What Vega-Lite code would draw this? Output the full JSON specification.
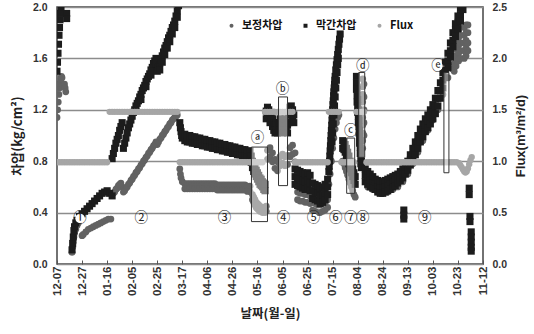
{
"$schema": "https://vega.github.io/schema/vega-lite/v6.json",
"width": 426, "height": 257,
"autosize": {"type": "none"},
"padding": {"left": 57, "top": 7, "right": 51, "bottom": 70},
"background": "white",
"config": {"view": {"stroke": "#444", "strokeWidth": 1.5}, "font": "Liberation Sans"},
"datasets": {
"vlines": [{"day":41},{"day":97},{"day":172},{"day":190.4},{"day":218.4},{"day":228.8},{"day":239.2},{"day":248}],
"periodEnds": [{"day":40.2},{"day":96.2},{"day":171.2},{"day":189.6},{"day":217.6},{"day":228},{"day":238.4},{"day":247.2},{"day":333}],
"periodStarts": [{"day":0.8},{"day":41.8},{"day":97.8},{"day":172.8},{"day":191.2},{"day":219.2},{"day":229.6},{"day":240},{"day":248.8}],
"boxes": [
{"day":155.2,"day2":168,"top":0.91,"bottom":0.33},
{"day":176.8,"day2":184,"top":1.3,"bottom":0.61},
{"day":231.2,"day2":237.6,"top":0.98,"bottom":0.55},
{"day":240.8,"day2":245.6,"top":1.49,"bottom":0.83},
{"day":308.8,"day2":312.8,"top":1.49,"bottom":0.71}],
"labels": [
{"day":18.4,"value":0.355,"label":"①"},{"day":67.2,"value":0.355,"label":"②"},{"day":133.6,"value":0.355,"label":"③"},
{"day":180.8,"value":0.355,"label":"④"},{"day":204.8,"value":0.355,"label":"⑤"},{"day":222.4,"value":0.355,"label":"⑥"},
{"day":234.4,"value":0.355,"label":"⑦"},{"day":244,"value":0.355,"label":"⑧"},{"day":293.6,"value":0.355,"label":"⑨"},
{"day":160,"value":0.98,"label":"ⓐ"},{"day":180,"value":1.36,"label":"ⓑ"},{"day":234.4,"value":1.035,"label":"ⓒ"},
{"day":244,"value":1.54,"label":"ⓓ"},{"day":304,"value":1.54,"label":"ⓔ"}],
"pts": [
{"series":"막간차압","day":0,"value":1.5},{"series":"막간차압","day":0.4,"value":1.57},{"series":"막간차압","day":0.8,"value":1.64},{"series":"막간차압","day":1.2,"value":1.71},{"series":"막간차압","day":1.6,"value":1.78},{"series":"막간차압","day":2,"value":1.84},{"series":"막간차압","day":2.4,"value":1.9},{"series":"막간차압","day":2.8,"value":1.95},{"series":"막간차압","day":3.2,"value":2.0},{"series":"막간차압","day":7.7,"value":1.95},{"series":"막간차압","day":7.7,"value":1.91},
{"series":"막간차압","day":12,"value":0.11},{"series":"막간차압","day":12.5,"value":0.16},{"series":"막간차압","day":13,"value":0.21},{"series":"막간차압","day":13.5,"value":0.26},{"series":"막간차압","day":14,"value":0.29},{"series":"막간차압","day":15,"value":0.32},{"series":"막간차압","day":16,"value":0.34},{"series":"막간차압","day":18,"value":0.37},{"series":"막간차압","day":20,"value":0.39},{"series":"막간차압","day":22,"value":0.41},{"series":"막간차압","day":24,"value":0.43},{"series":"막간차압","day":26,"value":0.45},{"series":"막간차압","day":28,"value":0.47},{"series":"막간차압","day":30,"value":0.49},{"series":"막간차압","day":32,"value":0.51},{"series":"막간차압","day":34,"value":0.53},{"series":"막간차압","day":36,"value":0.55},{"series":"막간차압","day":38,"value":0.56},{"series":"막간차압","day":40,"value":0.57},{"series":"막간차압","day":42,"value":0.55},{"series":"막간차압","day":44,"value":0.53},
{"series":"막간차압","day":44,"value":0.82},{"series":"막간차압","day":45,"value":0.86},{"series":"막간차압","day":46,"value":0.9},{"series":"막간차압","day":47,"value":0.94},{"series":"막간차압","day":48,"value":0.97},{"series":"막간차압","day":49,"value":1.0},{"series":"막간차압","day":50,"value":1.04},{"series":"막간차압","day":51,"value":1.07},{"series":"막간차압","day":52,"value":1.1},
{"series":"막간차압","day":53,"value":0.9},{"series":"막간차압","day":54,"value":0.94},{"series":"막간차압","day":55,"value":0.98},{"series":"막간차압","day":56,"value":1.02},{"series":"막간차압","day":57,"value":1.06},{"series":"막간차압","day":58,"value":1.09},{"series":"막간차압","day":59,"value":1.12},{"series":"막간차압","day":60,"value":1.15},{"series":"막간차압","day":61,"value":1.18},{"series":"막간차압","day":62,"value":1.2},{"series":"막간차압","day":63,"value":1.23},{"series":"막간차압","day":64,"value":1.25},{"series":"막간차압","day":65,"value":1.27},{"series":"막간차압","day":66,"value":1.3},{"series":"막간차압","day":67,"value":1.32},{"series":"막간차압","day":68,"value":1.35},{"series":"막간차압","day":69,"value":1.37},{"series":"막간차압","day":70,"value":1.39},{"series":"막간차압","day":71,"value":1.42},{"series":"막간차압","day":72,"value":1.44},{"series":"막간차압","day":73,"value":1.46},{"series":"막간차압","day":74,"value":1.48},{"series":"막간차압","day":75,"value":1.51},{"series":"막간차압","day":76,"value":1.53},{"series":"막간차압","day":77,"value":1.56},{"series":"막간차압","day":78,"value":1.58},{"series":"막간차압","day":79,"value":1.6},
{"series":"막간차압","day":63,"value":1.19},{"series":"막간차압","day":67,"value":1.28},{"series":"막간차압","day":71,"value":1.38},{"series":"막간차압","day":75,"value":1.47},{"series":"막간차압","day":79,"value":1.56},
{"series":"막간차압","day":80,"value":1.5},{"series":"막간차압","day":81,"value":1.53},{"series":"막간차압","day":82,"value":1.56},{"series":"막간차압","day":83,"value":1.59},{"series":"막간차압","day":84,"value":1.62},{"series":"막간차압","day":85,"value":1.65},{"series":"막간차압","day":86,"value":1.68},{"series":"막간차압","day":87,"value":1.7},{"series":"막간차압","day":88,"value":1.73},{"series":"막간차압","day":89,"value":1.76},{"series":"막간차압","day":90,"value":1.78},{"series":"막간차압","day":91,"value":1.81},{"series":"막간차압","day":92,"value":1.84},{"series":"막간차압","day":93,"value":1.86},{"series":"막간차압","day":94,"value":1.89},{"series":"막간차압","day":95,"value":1.93},{"series":"막간차압","day":96,"value":1.97},{"series":"막간차압","day":97,"value":2.01},
{"series":"막간차압","day":82,"value":1.51},{"series":"막간차압","day":84,"value":1.57},{"series":"막간차압","day":86,"value":1.63},{"series":"막간차압","day":88,"value":1.68},{"series":"막간차압","day":90,"value":1.73},{"series":"막간차압","day":92,"value":1.79},{"series":"막간차압","day":94,"value":1.84},{"series":"막간차압","day":96,"value":1.92},
{"series":"막간차압","day":98,"value":1.1},{"series":"막간차압","day":98.5,"value":1.06},{"series":"막간차압","day":99,"value":1.03},{"series":"막간차압","day":99.5,"value":1.0},{"series":"막간차압","day":100,"value":0.98},
{"series":"막간차압","day":102,"value":1.01},{"series":"막간차압","day":102,"value":0.96},{"series":"막간차압","day":104,"value":1.0},{"series":"막간차압","day":104,"value":0.95},{"series":"막간차압","day":106,"value":1.0},{"series":"막간차압","day":106,"value":0.95},{"series":"막간차압","day":108,"value":0.99},{"series":"막간차압","day":108,"value":0.94},{"series":"막간차압","day":110,"value":0.99},{"series":"막간차압","day":110,"value":0.94},{"series":"막간차압","day":112,"value":0.98},{"series":"막간차압","day":112,"value":0.93},{"series":"막간차압","day":114,"value":0.98},{"series":"막간차압","day":114,"value":0.93},{"series":"막간차압","day":116,"value":0.97},{"series":"막간차압","day":116,"value":0.92},{"series":"막간차압","day":118,"value":0.97},{"series":"막간차압","day":118,"value":0.92},{"series":"막간차압","day":120,"value":0.96},{"series":"막간차압","day":120,"value":0.91},{"series":"막간차압","day":122,"value":0.96},{"series":"막간차압","day":122,"value":0.91},{"series":"막간차압","day":124,"value":0.95},{"series":"막간차압","day":124,"value":0.9},{"series":"막간차압","day":126,"value":0.95},{"series":"막간차압","day":126,"value":0.9},{"series":"막간차압","day":128,"value":0.94},{"series":"막간차압","day":128,"value":0.89},{"series":"막간차압","day":130,"value":0.94},{"series":"막간차압","day":130,"value":0.89},{"series":"막간차압","day":132,"value":0.93},{"series":"막간차압","day":132,"value":0.88},{"series":"막간차압","day":134,"value":0.93},{"series":"막간차압","day":134,"value":0.88},{"series":"막간차압","day":136,"value":0.92},{"series":"막간차압","day":136,"value":0.87},{"series":"막간차압","day":138,"value":0.92},{"series":"막간차압","day":138,"value":0.87},{"series":"막간차압","day":140,"value":0.91},{"series":"막간차압","day":140,"value":0.86},{"series":"막간차압","day":142,"value":0.91},{"series":"막간차압","day":142,"value":0.86},{"series":"막간차압","day":144,"value":0.9},{"series":"막간차압","day":144,"value":0.85},{"series":"막간차압","day":146,"value":0.9},{"series":"막간차압","day":146,"value":0.85},{"series":"막간차압","day":148,"value":0.89},{"series":"막간차압","day":148,"value":0.84},{"series":"막간차압","day":150,"value":0.89},{"series":"막간차압","day":150,"value":0.84},{"series":"막간차압","day":152,"value":0.88},{"series":"막간차압","day":152,"value":0.83},{"series":"막간차압","day":154,"value":0.88},{"series":"막간차압","day":154,"value":0.83},
{"series":"막간차압","day":155,"value":0.84},{"series":"막간차압","day":155,"value":0.79},{"series":"막간차압","day":156,"value":0.8},{"series":"막간차압","day":156,"value":0.75},{"series":"막간차압","day":157,"value":0.77},{"series":"막간차압","day":157,"value":0.72},{"series":"막간차압","day":158,"value":0.75},{"series":"막간차압","day":158,"value":0.7},{"series":"막간차압","day":159,"value":0.73},{"series":"막간차압","day":159,"value":0.68},{"series":"막간차압","day":160,"value":0.71},{"series":"막간차압","day":160,"value":0.66},{"series":"막간차압","day":161,"value":0.69},{"series":"막간차압","day":161,"value":0.64},{"series":"막간차압","day":162,"value":0.67},{"series":"막간차압","day":162,"value":0.62},{"series":"막간차압","day":163,"value":0.66},{"series":"막간차압","day":163,"value":0.61},{"series":"막간차압","day":164,"value":0.64},{"series":"막간차압","day":164,"value":0.6},{"series":"막간차압","day":165,"value":0.63},{"series":"막간차압","day":165,"value":0.58},{"series":"막간차압","day":166,"value":0.62},{"series":"막간차압","day":166,"value":0.57},
{"series":"막간차압","day":167,"value":1.19},{"series":"막간차압","day":167,"value":1.13},{"series":"막간차압","day":168,"value":1.22},{"series":"막간차압","day":168,"value":1.16},{"series":"막간차압","day":169,"value":1.2},{"series":"막간차압","day":169,"value":1.14},{"series":"막간차압","day":170,"value":1.16},{"series":"막간차압","day":170,"value":1.1},{"series":"막간차압","day":171,"value":1.18},{"series":"막간차압","day":171,"value":1.12},{"series":"막간차압","day":172,"value":1.13},{"series":"막간차압","day":172,"value":1.07},{"series":"막간차압","day":173,"value":1.1},{"series":"막간차압","day":173,"value":1.04},{"series":"막간차압","day":174,"value":1.08},{"series":"막간차압","day":174,"value":1.02},{"series":"막간차압","day":175,"value":1.1},{"series":"막간차압","day":175,"value":1.04},{"series":"막간차압","day":176,"value":1.08},{"series":"막간차압","day":176,"value":1.02},{"series":"막간차압","day":177,"value":1.1},{"series":"막간차압","day":177,"value":1.04},{"series":"막간차압","day":178,"value":1.13},{"series":"막간차압","day":178,"value":1.07},{"series":"막간차압","day":179,"value":1.1},{"series":"막간차압","day":179,"value":1.04},{"series":"막간차압","day":180,"value":1.08},{"series":"막간차압","day":180,"value":1.02},{"series":"막간차압","day":181,"value":1.1},{"series":"막간차압","day":181,"value":1.04},{"series":"막간차압","day":182,"value":1.13},{"series":"막간차압","day":182,"value":1.07},{"series":"막간차압","day":183,"value":1.1},{"series":"막간차압","day":183,"value":1.04},{"series":"막간차압","day":184,"value":1.08},{"series":"막간차압","day":184,"value":1.02},{"series":"막간차압","day":185,"value":1.16},{"series":"막간차압","day":185,"value":1.1},{"series":"막간차압","day":186,"value":1.22},{"series":"막간차압","day":186,"value":1.16},{"series":"막간차압","day":187,"value":1.23},{"series":"막간차압","day":187,"value":1.17},{"series":"막간차압","day":188,"value":1.2},{"series":"막간차압","day":188,"value":1.14},{"series":"막간차압","day":189,"value":1.16},{"series":"막간차압","day":189,"value":1.1},
{"series":"막간차압","day":190,"value":0.74},{"series":"막간차압","day":190,"value":0.68},{"series":"막간차압","day":190,"value":0.62},{"series":"막간차압","day":192,"value":0.73},{"series":"막간차압","day":192,"value":0.67},{"series":"막간차압","day":192,"value":0.61},{"series":"막간차압","day":194,"value":0.72},{"series":"막간차압","day":194,"value":0.66},{"series":"막간차압","day":194,"value":0.6},{"series":"막간차압","day":196,"value":0.71},{"series":"막간차압","day":196,"value":0.65},{"series":"막간차압","day":196,"value":0.59},{"series":"막간차압","day":198,"value":0.7},{"series":"막간차압","day":198,"value":0.64},{"series":"막간차압","day":198,"value":0.58},{"series":"막간차압","day":200,"value":0.71},{"series":"막간차압","day":200,"value":0.65},{"series":"막간차압","day":200,"value":0.59},{"series":"막간차압","day":202,"value":0.69},{"series":"막간차압","day":202,"value":0.63},{"series":"막간차압","day":202,"value":0.57},{"series":"막간차압","day":204,"value":0.63},{"series":"막간차압","day":204,"value":0.57},{"series":"막간차압","day":204,"value":0.51},{"series":"막간차압","day":206,"value":0.62},{"series":"막간차압","day":206,"value":0.56},{"series":"막간차압","day":206,"value":0.5},{"series":"막간차압","day":208,"value":0.61},{"series":"막간차압","day":208,"value":0.55},{"series":"막간차압","day":208,"value":0.49},{"series":"막간차압","day":210,"value":0.59},{"series":"막간차압","day":210,"value":0.53},{"series":"막간차압","day":210,"value":0.47},{"series":"막간차압","day":212,"value":0.6},{"series":"막간차압","day":212,"value":0.54},{"series":"막간차압","day":212,"value":0.48},{"series":"막간차압","day":214,"value":0.62},{"series":"막간차압","day":214,"value":0.56},{"series":"막간차압","day":214,"value":0.5},{"series":"막간차압","day":216,"value":0.66},{"series":"막간차압","day":216,"value":0.6},{"series":"막간차압","day":216,"value":0.54},
{"series":"막간차압","day":217,"value":0.72},{"series":"막간차압","day":217.25,"value":0.76},{"series":"막간차압","day":217.5,"value":0.8},{"series":"막간차압","day":217.75,"value":0.84},{"series":"막간차압","day":218,"value":0.88},{"series":"막간차압","day":218.25,"value":0.92},{"series":"막간차압","day":218.5,"value":0.96},{"series":"막간차압","day":218.75,"value":1.0},{"series":"막간차압","day":219,"value":1.04},{"series":"막간차압","day":219.25,"value":1.08},{"series":"막간차압","day":219.5,"value":1.12},{"series":"막간차압","day":219.75,"value":1.16},{"series":"막간차압","day":220,"value":1.2},{"series":"막간차압","day":220.25,"value":1.24},{"series":"막간차압","day":220.5,"value":1.27},{"series":"막간차압","day":220.75,"value":1.31},{"series":"막간차압","day":221,"value":1.34},{"series":"막간차압","day":221.25,"value":1.37},{"series":"막간차압","day":221.5,"value":1.4},{"series":"막간차압","day":221.75,"value":1.43},{"series":"막간차압","day":222,"value":1.46},{"series":"막간차압","day":222.5,"value":1.51},{"series":"막간차압","day":223,"value":1.55},{"series":"막간차압","day":223.5,"value":1.59},{"series":"막간차압","day":224,"value":1.63},{"series":"막간차압","day":224.5,"value":1.67},{"series":"막간차압","day":225,"value":1.71},{"series":"막간차압","day":225.5,"value":1.75},{"series":"막간차압","day":226,"value":1.79},
{"series":"막간차압","day":219.5,"value":0.95},{"series":"막간차압","day":220,"value":1.02},{"series":"막간차압","day":220.5,"value":1.09},{"series":"막간차압","day":221,"value":1.16},{"series":"막간차압","day":221.5,"value":1.23},{"series":"막간차압","day":222,"value":1.3},{"series":"막간차압","day":222.5,"value":1.37},{"series":"막간차압","day":223,"value":1.43},{"series":"막간차압","day":223.5,"value":1.49},{"series":"막간차압","day":224,"value":1.55},{"series":"막간차압","day":224.5,"value":1.6},
{"series":"막간차압","day":228,"value":0.96},{"series":"막간차압","day":228,"value":0.9},{"series":"막간차압","day":229,"value":0.95},{"series":"막간차압","day":229,"value":0.89},{"series":"막간차압","day":230,"value":0.93},{"series":"막간차압","day":230,"value":0.87},{"series":"막간차압","day":231,"value":0.9},{"series":"막간차압","day":231,"value":0.84},{"series":"막간차압","day":232,"value":0.87},{"series":"막간차압","day":232,"value":0.81},{"series":"막간차압","day":233,"value":0.84},{"series":"막간차압","day":233,"value":0.78},{"series":"막간차압","day":234,"value":0.8},{"series":"막간차압","day":234,"value":0.74},{"series":"막간차압","day":235,"value":0.77},{"series":"막간차압","day":235,"value":0.71},{"series":"막간차압","day":236,"value":0.74},{"series":"막간차압","day":236,"value":0.68},{"series":"막간차압","day":237,"value":0.71},{"series":"막간차압","day":237,"value":0.65},{"series":"막간차압","day":238,"value":0.68},{"series":"막간차압","day":238,"value":0.62},
{"series":"막간차압","day":239,"value":1.46},{"series":"막간차압","day":239,"value":1.41},{"series":"막간차압","day":239,"value":1.36},{"series":"막간차압","day":239.5,"value":1.36},{"series":"막간차압","day":239.5,"value":1.31},{"series":"막간차압","day":239.5,"value":1.26},{"series":"막간차압","day":240,"value":1.28},{"series":"막간차압","day":240,"value":1.23},{"series":"막간차압","day":240,"value":1.18},{"series":"막간차압","day":240.5,"value":1.2},{"series":"막간차압","day":240.5,"value":1.15},{"series":"막간차압","day":240.5,"value":1.1},{"series":"막간차압","day":241,"value":1.12},{"series":"막간차압","day":241,"value":1.07},{"series":"막간차압","day":241,"value":1.02},{"series":"막간차압","day":241.5,"value":1.04},{"series":"막간차압","day":241.5,"value":0.99},{"series":"막간차압","day":241.5,"value":0.94},{"series":"막간차압","day":242,"value":0.96},{"series":"막간차압","day":242,"value":0.91},{"series":"막간차압","day":242,"value":0.86},{"series":"막간차압","day":242.5,"value":0.88},{"series":"막간차압","day":242.5,"value":0.83},{"series":"막간차압","day":242.5,"value":0.78},{"series":"막간차압","day":243,"value":0.8},{"series":"막간차압","day":243,"value":0.75},
{"series":"막간차압","day":246,"value":0.74},{"series":"막간차압","day":246,"value":0.69},{"series":"막간차압","day":246,"value":0.64},{"series":"막간차압","day":248,"value":0.72},{"series":"막간차압","day":248,"value":0.67},{"series":"막간차압","day":248,"value":0.62},{"series":"막간차압","day":250,"value":0.7},{"series":"막간차압","day":250,"value":0.65},{"series":"막간차압","day":250,"value":0.6},{"series":"막간차압","day":252,"value":0.68},{"series":"막간차압","day":252,"value":0.63},{"series":"막간차압","day":252,"value":0.59},{"series":"막간차압","day":254,"value":0.66},{"series":"막간차압","day":254,"value":0.62},{"series":"막간차압","day":254,"value":0.58},{"series":"막간차압","day":256,"value":0.65},{"series":"막간차압","day":256,"value":0.6},{"series":"막간차압","day":256,"value":0.56},{"series":"막간차압","day":258,"value":0.64},{"series":"막간차압","day":258,"value":0.59},{"series":"막간차압","day":258,"value":0.55},{"series":"막간차압","day":260,"value":0.64},{"series":"막간차압","day":260,"value":0.59},{"series":"막간차압","day":260,"value":0.55},{"series":"막간차압","day":262,"value":0.65},{"series":"막간차압","day":262,"value":0.6},{"series":"막간차압","day":262,"value":0.56},{"series":"막간차압","day":264,"value":0.66},{"series":"막간차압","day":264,"value":0.61},{"series":"막간차압","day":264,"value":0.57},{"series":"막간차압","day":266,"value":0.67},{"series":"막간차압","day":266,"value":0.62},{"series":"막간차압","day":266,"value":0.58},{"series":"막간차압","day":268,"value":0.68},{"series":"막간차압","day":268,"value":0.64},{"series":"막간차압","day":268,"value":0.6},{"series":"막간차압","day":270,"value":0.69},{"series":"막간차압","day":270,"value":0.65},{"series":"막간차압","day":270,"value":0.61},{"series":"막간차압","day":272,"value":0.7},{"series":"막간차압","day":272,"value":0.66},{"series":"막간차압","day":272,"value":0.63},{"series":"막간차압","day":274,"value":0.72},{"series":"막간차압","day":274,"value":0.68},{"series":"막간차압","day":274,"value":0.65},{"series":"막간차압","day":276,"value":0.74},{"series":"막간차압","day":276,"value":0.7},{"series":"막간차압","day":276,"value":0.67},{"series":"막간차압","day":278,"value":0.77},{"series":"막간차압","day":278,"value":0.73},{"series":"막간차압","day":278,"value":0.7},{"series":"막간차압","day":280,"value":0.8},{"series":"막간차압","day":280,"value":0.76},{"series":"막간차압","day":280,"value":0.73},{"series":"막간차압","day":282,"value":0.85},{"series":"막간차압","day":282,"value":0.81},{"series":"막간차압","day":282,"value":0.77},{"series":"막간차압","day":284,"value":0.9},{"series":"막간차압","day":284,"value":0.85},{"series":"막간차압","day":284,"value":0.81},{"series":"막간차압","day":286,"value":0.95},{"series":"막간차압","day":286,"value":0.9},{"series":"막간차압","day":286,"value":0.85},{"series":"막간차압","day":288,"value":1.0},{"series":"막간차압","day":288,"value":0.95},{"series":"막간차압","day":288,"value":0.9},{"series":"막간차압","day":290,"value":1.05},{"series":"막간차압","day":290,"value":1.0},{"series":"막간차압","day":290,"value":0.95},{"series":"막간차압","day":292,"value":1.09},{"series":"막간차압","day":292,"value":1.04},{"series":"막간차압","day":292,"value":0.99},{"series":"막간차압","day":294,"value":1.13},{"series":"막간차압","day":294,"value":1.08},{"series":"막간차압","day":294,"value":1.03},{"series":"막간차압","day":296,"value":1.16},{"series":"막간차압","day":296,"value":1.11},{"series":"막간차압","day":296,"value":1.06},{"series":"막간차압","day":298,"value":1.2},{"series":"막간차압","day":298,"value":1.15},{"series":"막간차압","day":298,"value":1.09},{"series":"막간차압","day":300,"value":1.24},{"series":"막간차압","day":300,"value":1.18},{"series":"막간차압","day":300,"value":1.13},{"series":"막간차압","day":302,"value":1.29},{"series":"막간차압","day":302,"value":1.23},{"series":"막간차압","day":302,"value":1.17},{"series":"막간차압","day":304,"value":1.35},{"series":"막간차압","day":304,"value":1.29},{"series":"막간차압","day":304,"value":1.23},{"series":"막간차압","day":306,"value":1.41},{"series":"막간차압","day":306,"value":1.35},{"series":"막간차압","day":306,"value":1.29},{"series":"막간차압","day":308,"value":1.49},{"series":"막간차압","day":308,"value":1.43},{"series":"막간차압","day":308,"value":1.37},{"series":"막간차압","day":310,"value":1.57},{"series":"막간차압","day":310,"value":1.51},{"series":"막간차압","day":310,"value":1.45},{"series":"막간차압","day":312,"value":1.64},{"series":"막간차압","day":312,"value":1.58},{"series":"막간차압","day":312,"value":1.53},{"series":"막간차압","day":314,"value":1.72},{"series":"막간차압","day":314,"value":1.66},{"series":"막간차압","day":314,"value":1.61},{"series":"막간차압","day":316,"value":1.8},{"series":"막간차압","day":316,"value":1.74},{"series":"막간차압","day":316,"value":1.69},{"series":"막간차압","day":318,"value":1.87},{"series":"막간차압","day":318,"value":1.82},{"series":"막간차압","day":318,"value":1.77},{"series":"막간차압","day":320,"value":1.93},{"series":"막간차압","day":320,"value":1.88},{"series":"막간차압","day":320,"value":1.83},{"series":"막간차압","day":322,"value":1.99},{"series":"막간차압","day":322,"value":1.94},{"series":"막간차압","day":322,"value":1.89},{"series":"막간차압","day":324,"value":2.03},{"series":"막간차압","day":324,"value":1.98},
{"series":"막간차압","day":276.8,"value":0.42},{"series":"막간차압","day":276.8,"value":0.38},{"series":"막간차압","day":276.8,"value":0.35},{"series":"막간차압","day":329,"value":0.59},{"series":"막간차압","day":329,"value":0.54},{"series":"막간차압","day":329.6,"value":0.37},{"series":"막간차압","day":329.6,"value":0.33},{"series":"막간차압","day":330.6,"value":0.25},{"series":"막간차압","day":330.6,"value":0.21},{"series":"막간차압","day":330.6,"value":0.17},{"series":"막간차압","day":330.6,"value":0.13},{"series":"막간차압","day":330.6,"value":0.1},
{"series":"보정차압","day":0,"value":1.14},{"series":"보정차압","day":0.5,"value":1.2},{"series":"보정차압","day":1,"value":1.26},{"series":"보정차압","day":1.5,"value":1.32},{"series":"보정차압","day":2,"value":1.37},{"series":"보정차압","day":2.5,"value":1.41},{"series":"보정차압","day":3,"value":1.44},{"series":"보정차압","day":3.5,"value":1.46},{"series":"보정차압","day":4,"value":1.45},{"series":"보정차압","day":6,"value":1.4},{"series":"보정차압","day":6.5,"value":1.37},{"series":"보정차압","day":7,"value":1.34},
{"series":"보정차압","day":12,"value":0.09},{"series":"보정차압","day":12.5,"value":0.13},{"series":"보정차압","day":13,"value":0.17},{"series":"보정차압","day":13.5,"value":0.21},{"series":"보정차압","day":14,"value":0.24},{"series":"보정차압","day":15,"value":0.27},{"series":"보정차압","day":16,"value":0.3},{"series":"보정차압","day":17,"value":0.32},
{"series":"보정차압","day":20,"value":0.22},{"series":"보정차압","day":21,"value":0.23},{"series":"보정차압","day":23,"value":0.25},{"series":"보정차압","day":25,"value":0.27},{"series":"보정차압","day":27,"value":0.28},{"series":"보정차압","day":29,"value":0.29},{"series":"보정차압","day":31,"value":0.3},{"series":"보정차압","day":33,"value":0.31},{"series":"보정차압","day":35,"value":0.32},{"series":"보정차압","day":37,"value":0.33},{"series":"보정차압","day":39,"value":0.34},{"series":"보정차압","day":41,"value":0.35},{"series":"보정차압","day":43,"value":0.35},
{"series":"보정차압","day":45,"value":0.55},{"series":"보정차압","day":47,"value":0.58},{"series":"보정차압","day":49,"value":0.61},{"series":"보정차압","day":51,"value":0.63},{"series":"보정차압","day":52,"value":0.6},{"series":"보정차압","day":53,"value":0.56},{"series":"보정차압","day":55,"value":0.59},{"series":"보정차압","day":57,"value":0.62},{"series":"보정차압","day":59,"value":0.65},{"series":"보정차압","day":61,"value":0.68},{"series":"보정차압","day":63,"value":0.71},{"series":"보정차압","day":65,"value":0.74},{"series":"보정차압","day":67,"value":0.77},{"series":"보정차압","day":69,"value":0.8},{"series":"보정차압","day":71,"value":0.83},{"series":"보정차압","day":73,"value":0.86},{"series":"보정차압","day":75,"value":0.89},{"series":"보정차압","day":77,"value":0.92},{"series":"보정차압","day":79,"value":0.95},{"series":"보정차압","day":80,"value":0.93},{"series":"보정차압","day":82,"value":0.97},{"series":"보정차압","day":84,"value":1.0},{"series":"보정차압","day":86,"value":1.03},{"series":"보정차압","day":88,"value":1.06},{"series":"보정차압","day":90,"value":1.09},{"series":"보정차압","day":92,"value":1.12},{"series":"보정차압","day":94,"value":1.14},{"series":"보정차압","day":96,"value":1.16},
{"series":"보정차압","day":46,"value":0.56},{"series":"보정차압","day":48,"value":0.59},{"series":"보정차압","day":50,"value":0.62},{"series":"보정차압","day":54,"value":0.57},{"series":"보정차압","day":56,"value":0.6},{"series":"보정차압","day":58,"value":0.63},{"series":"보정차압","day":60,"value":0.66},{"series":"보정차압","day":62,"value":0.69},{"series":"보정차압","day":64,"value":0.72},{"series":"보정차압","day":66,"value":0.75},{"series":"보정차압","day":68,"value":0.78},{"series":"보정차압","day":70,"value":0.81},{"series":"보정차압","day":72,"value":0.84},{"series":"보정차압","day":74,"value":0.87},{"series":"보정차압","day":76,"value":0.9},{"series":"보정차압","day":78,"value":0.93},{"series":"보정차압","day":81,"value":0.95},{"series":"보정차압","day":83,"value":0.98},{"series":"보정차압","day":85,"value":1.01},{"series":"보정차압","day":87,"value":1.04},{"series":"보정차압","day":89,"value":1.07},{"series":"보정차압","day":91,"value":1.1},{"series":"보정차압","day":93,"value":1.13},{"series":"보정차압","day":95,"value":1.15},
{"series":"보정차압","day":98,"value":0.74},{"series":"보정차압","day":98.5,"value":0.7},{"series":"보정차압","day":99,"value":0.67},{"series":"보정차압","day":100,"value":0.64},
{"series":"보정차압","day":102,"value":0.625},{"series":"보정차압","day":102,"value":0.585},{"series":"보정차압","day":104,"value":0.625},{"series":"보정차압","day":104,"value":0.585},{"series":"보정차압","day":106,"value":0.625},{"series":"보정차압","day":106,"value":0.585},{"series":"보정차압","day":108,"value":0.625},{"series":"보정차압","day":108,"value":0.585},{"series":"보정차압","day":110,"value":0.625},{"series":"보정차압","day":110,"value":0.585},{"series":"보정차압","day":112,"value":0.625},{"series":"보정차압","day":112,"value":0.585},{"series":"보정차압","day":114,"value":0.625},{"series":"보정차압","day":114,"value":0.585},{"series":"보정차압","day":116,"value":0.625},{"series":"보정차압","day":116,"value":0.585},{"series":"보정차압","day":118,"value":0.625},{"series":"보정차압","day":118,"value":0.585},{"series":"보정차압","day":120,"value":0.625},{"series":"보정차압","day":120,"value":0.585},{"series":"보정차압","day":122,"value":0.625},{"series":"보정차압","day":122,"value":0.585},{"series":"보정차압","day":124,"value":0.625},{"series":"보정차압","day":124,"value":0.585},{"series":"보정차압","day":126,"value":0.625},{"series":"보정차압","day":126,"value":0.585},{"series":"보정차압","day":128,"value":0.615},{"series":"보정차압","day":128,"value":0.575},{"series":"보정차압","day":130,"value":0.615},{"series":"보정차압","day":130,"value":0.575},{"series":"보정차압","day":132,"value":0.615},{"series":"보정차압","day":132,"value":0.575},{"series":"보정차압","day":134,"value":0.615},{"series":"보정차압","day":134,"value":0.575},{"series":"보정차압","day":136,"value":0.615},{"series":"보정차압","day":136,"value":0.575},{"series":"보정차압","day":138,"value":0.615},{"series":"보정차압","day":138,"value":0.575},{"series":"보정차압","day":140,"value":0.615},{"series":"보정차압","day":140,"value":0.575},{"series":"보정차압","day":142,"value":0.615},{"series":"보정차압","day":142,"value":0.575},{"series":"보정차압","day":144,"value":0.615},{"series":"보정차압","day":144,"value":0.575},{"series":"보정차압","day":146,"value":0.615},{"series":"보정차압","day":146,"value":0.575},{"series":"보정차압","day":148,"value":0.615},{"series":"보정차압","day":148,"value":0.575},{"series":"보정차압","day":150,"value":0.615},{"series":"보정차압","day":150,"value":0.575},{"series":"보정차압","day":152,"value":0.605},{"series":"보정차압","day":152,"value":0.565},{"series":"보정차압","day":154,"value":0.605},{"series":"보정차압","day":154,"value":0.565},
{"series":"보정차압","day":156,"value":0.54},{"series":"보정차압","day":156,"value":0.5},{"series":"보정차압","day":157,"value":0.52},{"series":"보정차압","day":157,"value":0.48},{"series":"보정차압","day":158,"value":0.5},{"series":"보정차압","day":158,"value":0.46},{"series":"보정차압","day":159,"value":0.48},{"series":"보정차압","day":159,"value":0.44},{"series":"보정차압","day":160,"value":0.47},{"series":"보정차압","day":160,"value":0.43},{"series":"보정차압","day":161,"value":0.46},{"series":"보정차압","day":161,"value":0.42},{"series":"보정차압","day":162,"value":0.45},{"series":"보정차압","day":162,"value":0.41},{"series":"보정차압","day":164,"value":0.44},{"series":"보정차압","day":164,"value":0.4},{"series":"보정차압","day":166,"value":0.44},{"series":"보정차압","day":166,"value":0.4},{"series":"보정차압","day":167,"value":0.45},{"series":"보정차압","day":167,"value":0.41},
{"series":"보정차압","day":168,"value":0.885},{"series":"보정차압","day":168,"value":0.815},{"series":"보정차압","day":170,"value":0.905},{"series":"보정차압","day":170,"value":0.835},{"series":"보정차압","day":172,"value":0.865},{"series":"보정차압","day":172,"value":0.795},{"series":"보정차압","day":174,"value":0.815},{"series":"보정차압","day":174,"value":0.745},{"series":"보정차압","day":176,"value":0.795},{"series":"보정차압","day":176,"value":0.725},{"series":"보정차압","day":178,"value":0.835},{"series":"보정차압","day":178,"value":0.765},{"series":"보정차압","day":180,"value":0.855},{"series":"보정차압","day":180,"value":0.785},{"series":"보정차압","day":182,"value":0.835},{"series":"보정차압","day":182,"value":0.765},{"series":"보정차압","day":184,"value":0.845},{"series":"보정차압","day":184,"value":0.775},{"series":"보정차압","day":186,"value":0.905},{"series":"보정차압","day":186,"value":0.835},{"series":"보정차압","day":188,"value":0.925},{"series":"보정차압","day":188,"value":0.855},{"series":"보정차압","day":190,"value":0.865},{"series":"보정차압","day":190,"value":0.795},
{"series":"보정차압","day":192,"value":0.56},{"series":"보정차압","day":192,"value":0.5},{"series":"보정차압","day":194,"value":0.55},{"series":"보정차압","day":194,"value":0.49},{"series":"보정차압","day":196,"value":0.55},{"series":"보정차압","day":196,"value":0.49},{"series":"보정차압","day":198,"value":0.54},{"series":"보정차압","day":198,"value":0.48},{"series":"보정차압","day":200,"value":0.54},{"series":"보정차압","day":200,"value":0.48},{"series":"보정차압","day":202,"value":0.53},{"series":"보정차압","day":202,"value":0.47},{"series":"보정차압","day":204,"value":0.48},{"series":"보정차압","day":204,"value":0.42},{"series":"보정차압","day":206,"value":0.47},{"series":"보정차압","day":206,"value":0.41},{"series":"보정차압","day":208,"value":0.46},{"series":"보정차압","day":208,"value":0.4},{"series":"보정차압","day":210,"value":0.46},{"series":"보정차압","day":210,"value":0.4},{"series":"보정차압","day":212,"value":0.47},{"series":"보정차압","day":212,"value":0.41},{"series":"보정차압","day":214,"value":0.48},{"series":"보정차압","day":214,"value":0.42},{"series":"보정차압","day":216,"value":0.5},{"series":"보정차압","day":216,"value":0.44},
{"series":"보정차압","day":217,"value":0.62},{"series":"보정차압","day":218,"value":0.7},{"series":"보정차압","day":219,"value":0.8},{"series":"보정차압","day":220,"value":0.9},{"series":"보정차압","day":221,"value":0.98},{"series":"보정차압","day":222,"value":1.05},{"series":"보정차압","day":223,"value":1.1},{"series":"보정차압","day":224,"value":1.14},{"series":"보정차압","day":225,"value":1.16},
{"series":"보정차압","day":228,"value":0.8},{"series":"보정차압","day":229,"value":0.78},{"series":"보정차압","day":230,"value":0.75},{"series":"보정차압","day":231,"value":0.72},{"series":"보정차압","day":232,"value":0.69},{"series":"보정차압","day":233,"value":0.66},{"series":"보정차압","day":234,"value":0.63},{"series":"보정차압","day":235,"value":0.6},{"series":"보정차압","day":236,"value":0.57},{"series":"보정차압","day":237,"value":0.54},{"series":"보정차압","day":238,"value":0.52},
{"series":"보정차압","day":244,"value":0.9},{"series":"보정차압","day":244,"value":0.96},{"series":"보정차압","day":244,"value":1.02},{"series":"보정차압","day":244,"value":1.08},{"series":"보정차압","day":244,"value":1.14},{"series":"보정차압","day":244,"value":1.2},{"series":"보정차압","day":244,"value":1.26},{"series":"보정차압","day":244,"value":1.32},{"series":"보정차압","day":244,"value":1.38},{"series":"보정차압","day":244,"value":1.44},{"series":"보정차압","day":245,"value":1.0},{"series":"보정차압","day":245,"value":1.1},{"series":"보정차압","day":245,"value":1.2},{"series":"보정차압","day":245,"value":1.3},{"series":"보정차압","day":245,"value":1.4},
{"series":"보정차압","day":248,"value":0.6},{"series":"보정차압","day":252,"value":0.58},{"series":"보정차압","day":256,"value":0.56},{"series":"보정차압","day":260,"value":0.55},{"series":"보정차압","day":264,"value":0.56},{"series":"보정차압","day":268,"value":0.58},{"series":"보정차압","day":272,"value":0.6},{"series":"보정차압","day":276,"value":0.64},{"series":"보정차압","day":280,"value":0.7},{"series":"보정차압","day":284,"value":0.78},{"series":"보정차압","day":288,"value":0.87},{"series":"보정차압","day":292,"value":0.96},{"series":"보정차압","day":296,"value":1.04},{"series":"보정차압","day":300,"value":1.12},{"series":"보정차압","day":304,"value":1.2},{"series":"보정차압","day":308,"value":1.32},{"series":"보정차압","day":312,"value":1.45},{"series":"보정차압","day":315,"value":1.52},
{"series":"보정차압","day":317,"value":1.5},{"series":"보정차압","day":317,"value":1.56},{"series":"보정차압","day":317,"value":1.62},{"series":"보정차압","day":317,"value":1.68},{"series":"보정차압","day":318.5,"value":1.54},{"series":"보정차압","day":318.5,"value":1.6},{"series":"보정차압","day":318.5,"value":1.67},{"series":"보정차압","day":318.5,"value":1.74},{"series":"보정차압","day":320.5,"value":1.58},{"series":"보정차압","day":320.5,"value":1.64},{"series":"보정차압","day":320.5,"value":1.7},{"series":"보정차압","day":320.5,"value":1.76},{"series":"보정차압","day":320.5,"value":1.82},{"series":"보정차압","day":322,"value":1.6},{"series":"보정차압","day":322,"value":1.66},{"series":"보정차압","day":322,"value":1.72},{"series":"보정차압","day":322,"value":1.78},{"series":"보정차압","day":325,"value":1.6},{"series":"보정차압","day":325,"value":1.66},{"series":"보정차압","day":325,"value":1.72},{"series":"보정차압","day":325,"value":1.78},{"series":"보정차압","day":325,"value":1.84},{"series":"보정차압","day":326.5,"value":1.62},{"series":"보정차압","day":326.5,"value":1.68},{"series":"보정차압","day":326.5,"value":1.74},{"series":"보정차압","day":326.5,"value":1.8},{"series":"보정차압","day":326.5,"value":1.86},{"series":"보정차압","day":328,"value":1.66},{"series":"보정차압","day":328,"value":1.72},{"series":"보정차압","day":328,"value":1.8},{"series":"보정차압","day":328,"value":1.86},
{"series":"Flux","day":0,"value":0.99},{"series":"Flux","day":2,"value":0.99},{"series":"Flux","day":4,"value":0.99},{"series":"Flux","day":6,"value":0.99},{"series":"Flux","day":8,"value":0.99},{"series":"Flux","day":10,"value":0.99},{"series":"Flux","day":12,"value":0.99},{"series":"Flux","day":14,"value":0.99},{"series":"Flux","day":16,"value":0.99},{"series":"Flux","day":18,"value":0.99},{"series":"Flux","day":20,"value":0.99},{"series":"Flux","day":22,"value":0.99},{"series":"Flux","day":24,"value":0.99},{"series":"Flux","day":26,"value":0.99},{"series":"Flux","day":28,"value":0.99},{"series":"Flux","day":30,"value":0.99},{"series":"Flux","day":32,"value":0.99},{"series":"Flux","day":34,"value":0.99},{"series":"Flux","day":36,"value":0.99},{"series":"Flux","day":38,"value":0.99},{"series":"Flux","day":40,"value":0.99},
{"series":"Flux","day":42,"value":1.48},{"series":"Flux","day":44,"value":1.48},{"series":"Flux","day":46,"value":1.48},{"series":"Flux","day":48,"value":1.48},{"series":"Flux","day":50,"value":1.48},{"series":"Flux","day":52,"value":1.48},{"series":"Flux","day":54,"value":1.48},{"series":"Flux","day":56,"value":1.48},{"series":"Flux","day":58,"value":1.48},{"series":"Flux","day":60,"value":1.48},{"series":"Flux","day":62,"value":1.48},{"series":"Flux","day":64,"value":1.48},{"series":"Flux","day":66,"value":1.48},{"series":"Flux","day":68,"value":1.48},{"series":"Flux","day":70,"value":1.48},{"series":"Flux","day":72,"value":1.48},{"series":"Flux","day":74,"value":1.48},{"series":"Flux","day":76,"value":1.48},{"series":"Flux","day":78,"value":1.48},{"series":"Flux","day":80,"value":1.48},{"series":"Flux","day":82,"value":1.48},{"series":"Flux","day":84,"value":1.48},{"series":"Flux","day":86,"value":1.48},{"series":"Flux","day":88,"value":1.48},{"series":"Flux","day":90,"value":1.48},{"series":"Flux","day":92,"value":1.48},{"series":"Flux","day":94,"value":1.48},{"series":"Flux","day":96,"value":1.48},
{"series":"Flux","day":98,"value":0.99},{"series":"Flux","day":100,"value":0.99},{"series":"Flux","day":102,"value":0.99},{"series":"Flux","day":104,"value":0.99},{"series":"Flux","day":106,"value":0.99},{"series":"Flux","day":108,"value":0.99},{"series":"Flux","day":110,"value":0.99},{"series":"Flux","day":112,"value":0.99},{"series":"Flux","day":114,"value":0.99},{"series":"Flux","day":116,"value":0.99},{"series":"Flux","day":118,"value":0.99},{"series":"Flux","day":120,"value":0.99},{"series":"Flux","day":122,"value":0.99},{"series":"Flux","day":124,"value":0.99},{"series":"Flux","day":126,"value":0.99},{"series":"Flux","day":128,"value":0.99},{"series":"Flux","day":130,"value":0.99},{"series":"Flux","day":132,"value":0.99},{"series":"Flux","day":134,"value":0.99},{"series":"Flux","day":136,"value":0.99},{"series":"Flux","day":138,"value":0.99},{"series":"Flux","day":140,"value":0.99},{"series":"Flux","day":142,"value":0.99},{"series":"Flux","day":144,"value":0.99},{"series":"Flux","day":146,"value":0.99},{"series":"Flux","day":148,"value":0.99},{"series":"Flux","day":150,"value":0.99},{"series":"Flux","day":152,"value":0.99},{"series":"Flux","day":154,"value":0.99},{"series":"Flux","day":156,"value":0.99},{"series":"Flux","day":158,"value":0.99},{"series":"Flux","day":160,"value":0.99},{"series":"Flux","day":162,"value":0.99},{"series":"Flux","day":164,"value":0.99},
{"series":"Flux","day":166,"value":1.48},{"series":"Flux","day":168,"value":1.48},{"series":"Flux","day":170,"value":1.48},{"series":"Flux","day":172,"value":1.48},{"series":"Flux","day":174,"value":1.48},{"series":"Flux","day":176,"value":1.48},{"series":"Flux","day":178,"value":1.48},{"series":"Flux","day":180,"value":1.48},{"series":"Flux","day":182,"value":1.48},{"series":"Flux","day":184,"value":1.48},{"series":"Flux","day":186,"value":1.48},{"series":"Flux","day":188,"value":1.48},
{"series":"Flux","day":190,"value":0.99},{"series":"Flux","day":192,"value":0.99},{"series":"Flux","day":194,"value":0.99},{"series":"Flux","day":196,"value":0.99},{"series":"Flux","day":198,"value":0.99},{"series":"Flux","day":200,"value":0.99},{"series":"Flux","day":202,"value":0.99},{"series":"Flux","day":204,"value":0.99},{"series":"Flux","day":206,"value":0.99},{"series":"Flux","day":208,"value":0.99},{"series":"Flux","day":210,"value":0.99},{"series":"Flux","day":212,"value":0.99},{"series":"Flux","day":214,"value":0.99},{"series":"Flux","day":216,"value":0.99},
{"series":"Flux","day":217,"value":1.48},{"series":"Flux","day":219,"value":1.48},{"series":"Flux","day":221,"value":1.48},{"series":"Flux","day":223,"value":1.48},{"series":"Flux","day":225,"value":1.48},
{"series":"Flux","day":227,"value":0.99},{"series":"Flux","day":229,"value":0.99},{"series":"Flux","day":231,"value":0.99},{"series":"Flux","day":233,"value":0.99},{"series":"Flux","day":235,"value":0.99},{"series":"Flux","day":237,"value":0.99},
{"series":"Flux","day":239,"value":1.48},{"series":"Flux","day":241,"value":1.48},{"series":"Flux","day":243,"value":1.48},{"series":"Flux","day":245,"value":1.48},
{"series":"Flux","day":247,"value":0.99},{"series":"Flux","day":249,"value":0.99},{"series":"Flux","day":251,"value":0.99},{"series":"Flux","day":253,"value":0.99},{"series":"Flux","day":255,"value":0.99},{"series":"Flux","day":257,"value":0.99},{"series":"Flux","day":259,"value":0.99},{"series":"Flux","day":261,"value":0.99},{"series":"Flux","day":263,"value":0.99},{"series":"Flux","day":265,"value":0.99},{"series":"Flux","day":267,"value":0.99},{"series":"Flux","day":269,"value":0.99},{"series":"Flux","day":271,"value":0.99},{"series":"Flux","day":273,"value":0.99},{"series":"Flux","day":275,"value":0.99},{"series":"Flux","day":277,"value":0.99},{"series":"Flux","day":279,"value":0.99},{"series":"Flux","day":281,"value":0.99},{"series":"Flux","day":283,"value":0.99},{"series":"Flux","day":285,"value":0.99},{"series":"Flux","day":287,"value":0.99},{"series":"Flux","day":289,"value":0.99},{"series":"Flux","day":291,"value":0.99},{"series":"Flux","day":293,"value":0.99},{"series":"Flux","day":295,"value":0.99},{"series":"Flux","day":297,"value":0.99},{"series":"Flux","day":299,"value":0.99},{"series":"Flux","day":301,"value":0.99},{"series":"Flux","day":303,"value":0.99},{"series":"Flux","day":305,"value":0.99},{"series":"Flux","day":307,"value":0.99},{"series":"Flux","day":309,"value":0.99},{"series":"Flux","day":311,"value":0.99},{"series":"Flux","day":313,"value":0.99},{"series":"Flux","day":315,"value":0.99},{"series":"Flux","day":317,"value":0.99},{"series":"Flux","day":319,"value":0.99},
{"series":"Flux","day":321,"value":0.98},{"series":"Flux","day":322,"value":0.96},{"series":"Flux","day":323,"value":0.94},{"series":"Flux","day":324,"value":0.92},{"series":"Flux","day":325,"value":0.9},{"series":"Flux","day":326,"value":0.89},{"series":"Flux","day":327,"value":0.9},{"series":"Flux","day":328,"value":0.93},{"series":"Flux","day":329,"value":0.97},{"series":"Flux","day":330,"value":1.01},{"series":"Flux","day":331,"value":1.04}
]
},
"encoding": {
"x": {"field": "day", "type": "quantitative",
 "scale": {"domain": [0, 340], "nice": false, "zero": false},
 "axis": {"values": [0,20,40,60,80,100,120,140,160,180,200,220,240,260,280,300,320,340],
  "labelExpr": "timeFormat(datetime(2006, 11, 7 + datum.value), '%m-%d')",
  "labelAngle": 270, "labelFont": "Liberation Sans", "labelFontWeight": "bold", "labelFontSize": 11.5, "labelColor": "#333",
  "labelPadding": 6, "tickSize": -4, "tickColor": "#555", "grid": false, "domain": false, "labelOverlap": false, "labelBound": false,
  "title": "날짜(월-일)", "titleFont": "Noto Sans CJK KR", "titleFontSize": 12.5, "titleFontWeight": "bold", "titleColor": "#222", "titlePadding": 12}}
},
"layer": [
 {"encoding": {"y": {"field": "value", "type": "quantitative", "scale": {"domain": [0, 2], "nice": false, "zero": false},
   "axis": {"orient": "left", "values": [0,0.4,0.8,1.2,1.6,2.0], "format": ".1f", "grid": true, "gridColor": "#8c8c8c", "gridWidth": 1.4,
    "ticks": false, "domain": false, "labelFont": "Liberation Sans", "labelFontWeight": "bold", "labelFontSize": 10.5, "labelColor": "#333", "labelPadding": 10,
    "title": "차압(kg/cm²)", "titleFont": "Noto Sans CJK KR", "titleFontSize": 13, "titleFontWeight": "bold", "titleColor": "#222", "titlePadding": 8}}},
  "layer": [
   {"data": {"name": "vlines"}, "mark": {"type": "rule", "color": "#8a8a8a", "strokeWidth": 1, "strokeDash": [1.5, 2]},
    "encoding": {"y": {"datum": 0}, "y2": {"datum": 1.6}}},
   {"data": {"values": [{"day": 0.5, "day2": 333}]}, "mark": {"type": "rule", "color": "#7a7a7a", "strokeWidth": 1},
    "encoding": {"x2": {"field": "day2"}, "y": {"datum": 0.28}}},
   {"data": {"name": "periodEnds"}, "mark": {"type": "point", "shape": "triangle-right", "filled": true, "size": 14, "color": "#777", "opacity": 1},
    "encoding": {"y": {"datum": 0.28}}},
   {"data": {"name": "periodStarts"}, "mark": {"type": "point", "shape": "triangle-left", "filled": true, "size": 14, "color": "#777", "opacity": 1},
    "encoding": {"y": {"datum": 0.28}}},
   {"data": {"name": "pts"}, "transform": [{"filter": "datum.series === '보정차압'"}],
    "mark": {"type": "point", "filled": true, "size": 46, "opacity": 1, "clip": true},
    "encoding": {
     "color": {"field": "series", "type": "nominal", "scale": {"domain": ["보정차압", "막간차압", "Flux"], "range": ["#626262", "#1c1c1c", "#a6a6a6"]},
      "legend": {"orient": "none", "legendX": 169, "legendY": 13, "direction": "horizontal", "title": null, "symbolSize": 16, "labelFont": "Noto Sans CJK KR", "labelFontSize": 11, "labelFontWeight": "bold", "labelColor": "#111", "columnPadding": 17, "labelOffset": 5, "padding": 0, "symbolStrokeWidth": 0}},
     "shape": {"field": "series", "type": "nominal", "scale": {"domain": ["보정차압", "막간차압", "Flux"], "range": ["circle", "square", "circle"]},
      "legend": {"orient": "none", "legendX": 169, "legendY": 13, "direction": "horizontal", "title": null, "symbolSize": 16, "labelFont": "Noto Sans CJK KR", "labelFontSize": 11, "labelFontWeight": "bold", "labelColor": "#111", "columnPadding": 17, "labelOffset": 5, "padding": 0, "symbolStrokeWidth": 0}}}},
   {"data": {"name": "pts"}, "transform": [{"filter": "datum.series === '막간차압'"}],
    "mark": {"type": "point", "filled": true, "size": 50, "opacity": 1, "clip": true},
    "encoding": {
     "color": {"field": "series", "type": "nominal", "scale": {"domain": ["보정차압", "막간차압", "Flux"], "range": ["#626262", "#1c1c1c", "#a6a6a6"]}},
     "shape": {"field": "series", "type": "nominal", "scale": {"domain": ["보정차압", "막간차압", "Flux"], "range": ["circle", "square", "circle"]}}}}
  ]},
 {"data": {"name": "pts"}, "transform": [{"filter": "datum.series === 'Flux'"}],
  "mark": {"type": "point", "filled": true, "size": 40, "opacity": 1, "clip": true},
  "encoding": {
   "y": {"field": "value", "type": "quantitative", "scale": {"domain": [0, 2.5], "nice": false, "zero": false},
    "axis": {"orient": "right", "values": [0,0.5,1,1.5,2,2.5], "format": ".1f", "grid": false, "ticks": false, "domain": false,
     "labelFont": "Liberation Sans", "labelFontWeight": "bold", "labelFontSize": 10.5, "labelColor": "#333", "labelPadding": 9,
     "title": "Flux(m³/m²/d)", "titleAngle": 270, "titleBaseline": "top", "titleFont": "Liberation Sans", "titleFontSize": 13, "titleFontWeight": "bold", "titleColor": "#222", "titlePadding": 8}},
   "color": {"field": "series", "type": "nominal", "scale": {"domain": ["보정차압", "막간차압", "Flux"], "range": ["#626262", "#1c1c1c", "#a6a6a6"]}},
   "shape": {"field": "series", "type": "nominal", "scale": {"domain": ["보정차압", "막간차압", "Flux"], "range": ["circle", "square", "circle"]}}}},
 {"encoding": {"y": {"field": "value", "type": "quantitative", "scale": {"domain": [0, 2], "nice": false, "zero": false}, "axis": null}},
  "layer": [
   {"data": {"name": "boxes"}, "mark": {"type": "rect", "fill": "white", "fillOpacity": 0.45, "stroke": "#333", "strokeWidth": 1},
    "encoding": {"x2": {"field": "day2"}, "y": {"field": "top", "type": "quantitative", "axis": null}, "y2": {"field": "bottom"}}},
   {"data": {"name": "labels"}, "mark": {"type": "point", "filled": true, "color": "white", "size": 90, "opacity": 1}, "encoding": {}},
   {"data": {"name": "labels"}, "mark": {"type": "text", "font": "Noto Sans CJK KR", "fontSize": 13.5, "color": "#222"},
    "encoding": {"text": {"field": "label"}}}
  ]}
],
"resolve": {"scale": {"y": "independent"}}
}
